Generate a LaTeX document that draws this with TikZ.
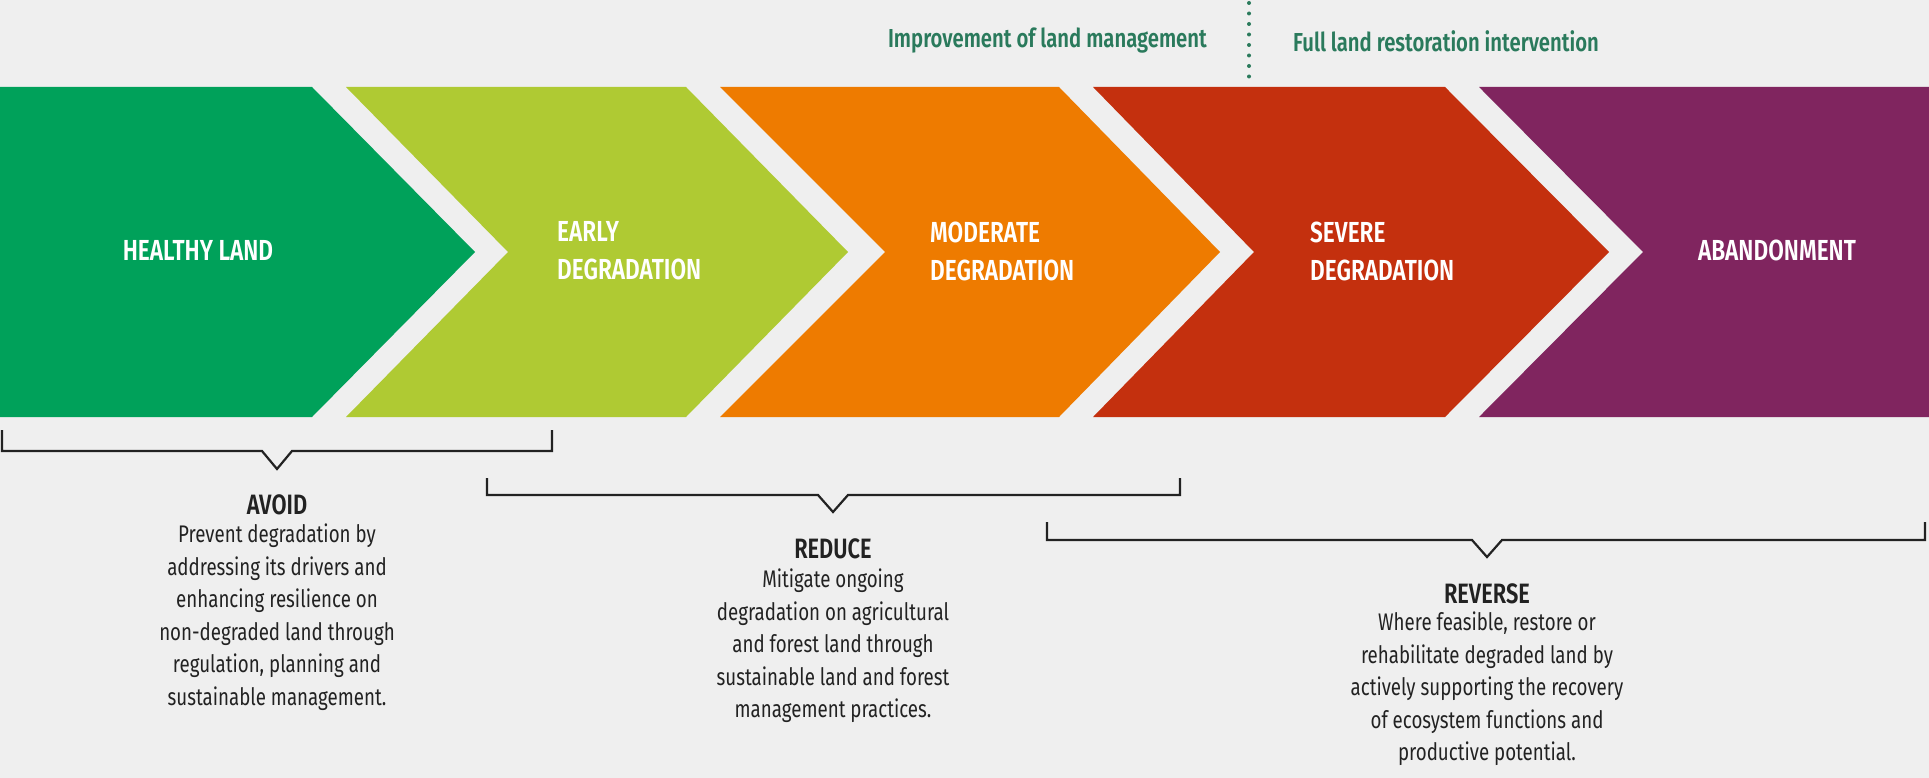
\documentclass[tikz,border=0pt]{standalone}
\usepackage{fontspec}
\setmainfont{Fira Sans}
\newfontfamily\cond[FakeStretch=0.78]{Fira Sans}
\newfontfamily\condb[FakeStretch=0.78]{Fira Sans SemiBold}
\definecolor{bg}{HTML}{EFEFEF}
\definecolor{cA}{HTML}{00A15A}
\definecolor{cB}{HTML}{AFCA33}
\definecolor{cC}{HTML}{EE7B00}
\definecolor{cD}{HTML}{C4300E}
\definecolor{cE}{HTML}{80255F}
\definecolor{hd}{HTML}{2A7A5C}
\definecolor{tx}{HTML}{222222}
\begin{document}
\begin{tikzpicture}[x=1pt,y=-1pt,
  lab/.style={text=white,font=\condb\fontsize{29}{38}\selectfont,align=left,inner sep=0},
  head/.style={text=hd,font=\condb\fontsize{26}{30}\selectfont,inner sep=0},
  ttl/.style={text=tx,font=\condb\fontsize{28}{30}\selectfont,inner sep=0},
  body/.style={text=tx,font=\cond\fontsize{24}{32.5}\selectfont,align=center,inner sep=0},
  brk/.style={draw=tx,line width=2.2pt}]
\fill[bg] (0,0) rectangle (1929,778);
\useasboundingbox (0,0) rectangle (1929,778);
% chevrons
\fill[cA] (0,87) -- (312,87) -- (475,252) -- (312,417) -- (0,417) -- cycle;
\fill[cB] (346,87) -- (686,87) -- (848,252) -- (686,417) -- (346,417) -- (508,252) -- cycle;
\fill[cC] (720,87) -- (1059,87) -- (1220,252) -- (1059,417) -- (720,417) -- (885,252) -- cycle;
\fill[cD] (1093,87) -- (1445,87) -- (1609,252) -- (1445,417) -- (1093,417) -- (1254,252) -- cycle;
\fill[cE] (1479,87) -- (1929,87) -- (1929,417) -- (1479,417) -- (1643,252) -- cycle;
\node[lab] (hl) at (198,250) {HEALTHY LAND};
\node[lab,anchor=west] (ed) at (557,251) {EARLY\\DEGRADATION};
\node[lab,anchor=west] (md) at (930,251) {MODERATE\\DEGRADATION};
\node[lab,anchor=west] (sd) at (1310,251) {SEVERE\\DEGRADATION};
\node[lab] (ab) at (1777,250) {ABANDONMENT};
% headers
\node[head,anchor=east] (h1) at (1207,41) {Improvement of land management};
\node[head,anchor=west] (h2) at (1293,41) {Full land restoration intervention};
\coordinate (d1) at (1249,3);
\coordinate (d2) at (1249,80);
\draw[hd,line width=4pt,line cap=round,dash pattern=on 0pt off 10.5pt] (d1) -- (d2);
% brackets
\draw[brk] (2,430) -- (2,451) -- (262,451) -- (277,469) -- (292,451) -- (552,451) -- (552,430);
\draw[brk] (487,478) -- (487,495) -- (818,495) -- (833,512) -- (848,495) -- (1180,495) -- (1180,478);
\draw[brk] (1047,522) -- (1047,540) -- (1472,540) -- (1487,557) -- (1502,540) -- (1925,540) -- (1925,522);
% texts
\node[ttl] (t1) at (277,505) {AVOID};
\node[body,anchor=north] (b1) at (277,524) {Prevent degradation by\\addressing its drivers and\\enhancing resilience on\\non-degraded land through\\regulation, planning and\\sustainable management.};
\node[ttl] (t2) at (833,549) {REDUCE};
\node[body,anchor=north] (b2) at (833,569) {Mitigate ongoing\\degradation on agricultural\\and forest land through\\sustainable land and forest\\management practices.};
\node[ttl] (t3) at (1487,594) {REVERSE};
\node[body,anchor=north] (b3) at (1487,612) {Where feasible, restore or\\rehabilitate degraded land by\\actively supporting the recovery\\of ecosystem functions and\\productive potential.};
\end{tikzpicture}
\end{document}
